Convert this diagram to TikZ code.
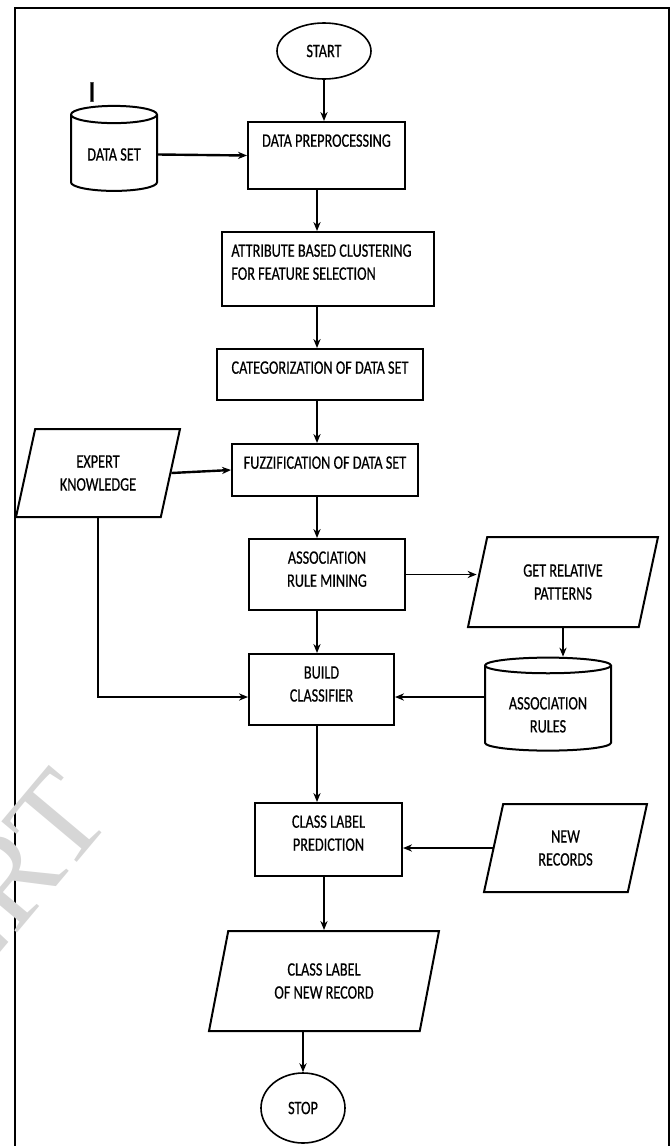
\documentclass[tikz,border=0pt]{standalone}
\usepackage{fontspec}
\setmainfont{Carlito}[FakeStretch=0.75, FakeBold=0.5]
\newfontfamily\wmfont{Liberation Serif}
\usepackage{tikz}
\usetikzlibrary{shapes.geometric, arrows.meta}
\tikzset{
>={Stealth[length=4.5pt,width=3.6pt]},
  procbox/.style={
    rectangle,
    draw=black, line width=1pt,
    inner sep=0pt},
  boxtext/.style={anchor=north, inner sep=0pt, yshift=-6.5pt, align=center},
  iobox/.style={
    trapezium,
    trapezium left angle=64, trapezium right angle=116,
    trapezium stretches body,
    draw=black, line width=1pt,
    align=center, inner sep=1pt},
  dbase/.style={
    cylinder, shape border rotate=90,
    draw=black, line width=1pt,
    align=center, inner sep=1pt},
  terminal/.style={ellipse, draw=black, line width=0.8pt, inner sep=0pt},
  line/.style={draw, line width=0.65pt, ->},
  thickline/.style={draw, line width=1.2pt, ->},
}

\begin{document}
\begin{tikzpicture}[x=0.5pt, y=-0.5pt, font=\fontsize{9.5}{11.5}\selectfont]
  \useasboundingbox (0,0) rectangle (672,1146);
  % frame, open at the foot
  \draw[line width=0.6pt] (15,1160) -- (15,8) -- (669,8) -- (669,1160);
  % watermark
  \node[rotate=50, anchor=base east, text=black!16,
        font=\wmfont\fontsize{64}{64}\selectfont] (wmark) at (119,812) {IJERT};
  \node[font=\bfseries\fontsize{15}{15}\selectfont, inner sep=0pt] (mark) at (92,92) {I};

  \coordinate (col) at (317,0);
  \coordinate (row) at (0,697);

  \node[terminal, minimum width=47pt, minimum height=28pt] (start) at (324,51) {START};
  \node[dbase, minimum width=43pt, minimum height=42.5pt, aspect=0.3] (dset) at (114,154.5) {DATA SET};
  \node[procbox, minimum width=78.5pt, minimum height=33.5pt,
        label={[boxtext]north:DATA PREPROCESSING}] (prep) at (326.5,155.5) {};
  \node[procbox, minimum width=106pt, minimum height=37pt,
        label={[boxtext, anchor=north west, align=left, xshift=5pt]north west:{ATTRIBUTE BASED CLUSTERING\\FOR FEATURE SELECTION}}] (attr) at (328,269) {};
  \node[procbox, minimum width=103pt, minimum height=25.5pt,
        label={[boxtext]north:CATEGORIZATION OF DATA SET}] (categ) at (320,374.5) {};
  \node[procbox, minimum width=93pt, minimum height=26pt,
        label={[boxtext]north:FUZZIFICATION OF DATA SET}] (fuzz) at (325,470) {};
  \node[iobox, minimum width=82pt, minimum height=44pt] (expert) at (98,473) {EXPERT\\KNOWLEDGE};
  \node[procbox, minimum width=78pt, minimum height=35.5pt,
        label={[boxtext]north:{ASSOCIATION\\RULE MINING}}] (assoc) at (327,574.5) {};
  \node[iobox, minimum width=95pt, minimum height=45pt] (relpat) at (563,582) {GET RELATIVE\\PATTERNS};
  \node[dbase, minimum width=63pt, minimum height=46.5pt, aspect=0.19] (rules) at (548,709.5) {\\ASSOCIATION\\RULES};
  \node[procbox, minimum width=72.5pt, minimum height=35.5pt,
        label={[boxtext]north:{BUILD\\CLASSIFIER}}] (build) at (321.5,689.5) {};
  \node[procbox, minimum width=73.5pt, minimum height=36.5pt,
        label={[boxtext]north:{CLASS LABEL\\PREDICTION}}] (predict) at (328.5,839.5) {};
  \node[iobox, minimum width=81.5pt, minimum height=44pt] (newrec) at (565.5,848) {NEW\\RECORDS};
  \node[iobox, minimum width=115pt, minimum height=50pt] (clabel) at (324,981) {CLASS LABEL\\OF NEW RECORD};
  \node[terminal, minimum width=42pt, minimum height=35pt] (stop) at (303,1108) {STOP};

  % connectors
  \draw[line] (start) -- (start |- prep.north);
  \draw[thickline] (dset.east) -- (prep.west);
  \draw[line] (prep.south -| col) -- (attr.north -| col);
  \draw[line] (attr.south -| col) -- (categ.north -| col);
  \draw[line] (categ.south -| col) -- (fuzz.north -| col);
  \draw[thickline] (expert.east) -- (fuzz.west);
  \draw[line] (fuzz.south -| col) -- (assoc.north -| col);
  \draw[line] (assoc.east) -- (assoc.east -| relpat.west);
  \draw[line] (relpat.south) -- (relpat.south |- rules.north);
  \draw[line] (assoc.south -| col) -- (build.north -| col);
  \draw[line] (expert.south) |- (build.west |- row);
  \draw[line] (rules.west |- row) -- (build.east |- row);
  \draw[line] (build.south -| col) -- (predict.north -| col);
  \draw[thickline] (newrec.west) -- (newrec.west -| predict.east);
  \draw[line] (predict.south -| clabel.north) -- (clabel.north);
  \draw[line] (clabel.south -| stop.north) -- (stop.north);
\end{tikzpicture}
\end{document}
